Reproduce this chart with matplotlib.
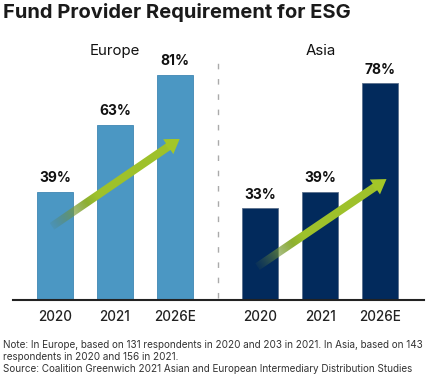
import numpy as np
import matplotlib.pyplot as plt
from matplotlib.patches import Polygon

plt.rcParams['font.family'] = ['Inter', 'DejaVu Sans']

# data
years = ["2020", "2021", "2026E"]
europe = [39, 63, 81]
asia = [33, 39, 78]
group_names = ["Europe", "Asia"]
europe_color = "#4b97c3"
asia_color = "#022a5c"

title = "Fund Provider Requirement for ESG"
note = ("Note: In Europe, based on 131 respondents in 2020 and 203 in 2021. In Asia, based on 143\n"
        "respondents in 2020 and 156 in 2021.\n"
        "Source: Coalition Greenwich 2021 Asian and European Intermediary Distribution Studies")

W, H = 428, 378
fig = plt.figure(figsize=(W / 100, H / 100), dpi=100)
ax = fig.add_axes([13 / W, 78 / H, (424 - 13) / W, 278 / H])

x_eu = np.arange(3)
x_as = np.arange(3) + 3.425
ax.bar(x_eu, europe, width=0.6, color=europe_color, edgecolor="#3f87b3", linewidth=0.6)
ax.bar(x_as, asia, width=0.6, color=asia_color, edgecolor="#5a6f8c", linewidth=0.6)

for xs, vals in [(x_eu, europe), (x_as, asia)]:
    for x, v in zip(xs, vals):
        ax.text(x, v + 2.3, f"{v}%", ha="center", va="bottom", fontsize=10,
                fontweight="bold", color="#111111")

ax.set_xlim(-0.7, 6.15)
ax.set_ylim(0, 100)
ax.set_xticks(list(x_eu) + list(x_as))
ax.set_xticklabels(years + years, fontsize=9.7, fontweight="medium", color="#222222")
ax.tick_params(axis="x", length=0, pad=7)
ax.set_yticks([])
for s in ["top", "right", "left"]:
    ax.spines[s].set_visible(False)
ax.spines["bottom"].set_linewidth(1.5)
ax.spines["bottom"].set_color("#222222")

# divider
ax.plot([2.717, 2.717], [0.8, 86.5], color="#aaaaaa", linewidth=1.0,
        linestyle=(0, (4, 7)), clip_on=False)

# group labels
ax.text(1, 89.5, group_names[0], ha="center", va="center", fontsize=10.8, color="#111111")
ax.text(x_as[1], 89.5, group_names[1], ha="center", va="center", fontsize=10.8, color="#111111")

fig.canvas.draw()


def gradient_arrow(x0, y0, x1, y1):
    # build the arrow in pixel space so it keeps its shape
    p0 = ax.transData.transform((x0, y0))
    p1 = ax.transData.transform((x1, y1))
    d = p1 - p0
    L = np.hypot(*d)
    u = d / L
    n = np.array([-u[1], u[0]])
    sw, hw, hl = 4.0, 9.0, 14.0
    b = p1 - u * hl
    pts = [p0 + n * sw, b + n * sw, b + n * hw, p1, b - n * hw, b - n * sw, p0 - n * sw]
    data_pts = ax.transData.inverted().transform(pts)
    poly = Polygon(data_pts, closed=True, facecolor="none", edgecolor="none")
    ax.add_patch(poly)

    xmin, ymin = data_pts.min(axis=0)
    xmax, ymax = data_pts.max(axis=0)
    nx, ny = 200, 200
    gx = np.linspace(xmin, xmax, nx)
    gy = np.linspace(ymin, ymax, ny)
    GX, GY = np.meshgrid(gx, gy)
    disp = ax.transData.transform(np.column_stack([GX.ravel(), GY.ravel()]))
    t = ((disp - p0) @ u / L).reshape(ny, nx)
    t = np.clip(t, 0, 1)
    c0 = np.array([0.33, 0.45, 0.25])
    c1 = np.array([0.62, 0.76, 0.17])
    c2 = np.array([0.64, 0.78, 0.16])
    k = np.clip(t / 0.35, 0, 1)[..., None]
    rgb = c0 * (1 - k) + c1 * k
    rgb = rgb * (t[..., None] < 0.9) + c2 * (t[..., None] >= 0.9)
    alpha = np.clip(0.1 + t / 0.3, 0, 1)
    img = np.dstack([rgb, alpha])
    im = ax.imshow(img, extent=[xmin, xmax, ymin, ymax], origin="lower",
                   aspect="auto", interpolation="bilinear", zorder=3)
    im.set_clip_path(poly)


# arrow ends placed relative to the bars
gradient_arrow(x_eu[0] - 0.05, 26.5, x_eu[2] + 0.08, 58)
gradient_arrow(x_as[0] - 0.05, 12, x_as[2] + 0.1, 43.5)
ax.set_xlim(-0.7, 6.15)
ax.set_ylim(0, 100)

fig.text(3 / W, 1 - 12 / H, title, ha="left", va="center", fontsize=14.5,
         fontweight="bold", color="#1a1a1a")
fig.text(3 / W, 1 - 340 / H, note, ha="left", va="top", fontsize=7.15,
         color="#333333", linespacing=1.25)

fig.savefig("out.png", dpi=100)
